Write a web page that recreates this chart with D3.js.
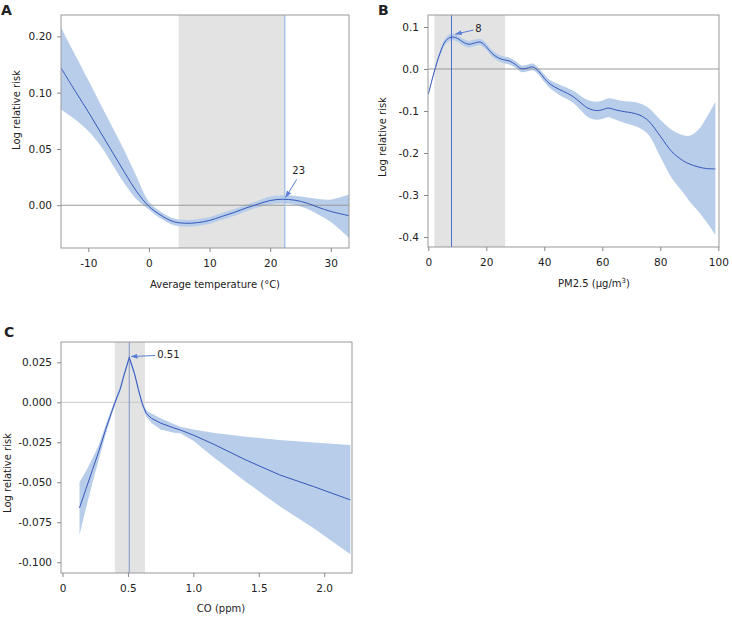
<!DOCTYPE html>
<html>
<head>
  <meta charset="utf-8"/>
  <title>Exposure-response curves</title>
  <script src="https://d3js.org/d3.v7.min.js"></script>
<style>
body { margin: 0; background: #fff; }
svg text { font-family: "DejaVu Sans", Verdana, sans-serif; fill: #222; }
.tick line { stroke: #888; }
.tick text { font-size: 10.5px; }
.title { font-size: 10px; }
.letter { font-size: 14px; font-weight: bold; }
</style>
</head>
<body>
<svg id="chart" width="732" height="626"></svg>
<script>
// ---- panel A: average temperature ----
var tempX    = [-14.5, -12, -10, -8, -6, -4, -2, 0, 2, 4, 6, 8, 10, 12, 14, 16, 18, 20, 22, 24, 26, 28, 30, 33];
var tempFit  = [0.122, 0.100, 0.083, 0.065, 0.047, 0.029, 0.012, -0.001, -0.009, -0.0145, -0.016, -0.0155, -0.0135, -0.010, -0.0065, -0.0025, 0.001, 0.0042, 0.0053, 0.0045, 0.002, -0.002, -0.0055, -0.0093];
var tempLow  = [0.085, 0.0755, 0.066, 0.053, 0.036, 0.019, 0.005, -0.004, -0.012, -0.0175, -0.019, -0.0185, -0.0165, -0.013, -0.0095, -0.0055, -0.002, 0.0007, 0.0018, 0.0005, -0.003, -0.0085, -0.015, -0.029];
var tempHigh = [0.158, 0.132, 0.111, 0.090, 0.069, 0.048, 0.025, 0.003, -0.006, -0.0115, -0.013, -0.0125, -0.0105, -0.007, -0.0035, 0.0005, 0.004, 0.0077, 0.0088, 0.0085, 0.007, 0.0055, 0.005, 0.0095];
var tempXTicks = [-10, 0, 10, 20, 30];
var tempYTicks = [0, 0.05, 0.10, 0.15];
var tempYTickLabels = ["0.00", "0.05", "0.10", "0.20"];

// ---- panel B: PM2.5 ----
var pmX    = [0, 2, 4, 6, 8, 10, 12, 14, 16, 18, 20, 22, 24, 26, 28, 30, 32, 34, 36, 38, 40, 42, 45, 48, 50, 52, 55, 58, 60, 62, 65, 68, 70, 73, 76, 80, 84, 88, 90, 93, 96, 99];
var pmFit  = [-0.060, -0.008, 0.037, 0.067, 0.076, 0.073, 0.064, 0.059, 0.062, 0.064, 0.053, 0.037, 0.027, 0.022, 0.019, 0.011, 0.001, 0.002, 0.005, -0.005, -0.022, -0.036, -0.048, -0.058, -0.066, -0.077, -0.093, -0.099, -0.097, -0.093, -0.098, -0.102, -0.104, -0.110, -0.124, -0.160, -0.197, -0.219, -0.226, -0.233, -0.237, -0.238];
var pmLow  = [-0.062, -0.012, 0.030, 0.059, 0.068, 0.065, 0.056, 0.051, 0.054, 0.056, 0.045, 0.029, 0.019, 0.014, 0.011, 0.003, -0.007, -0.006, -0.003, -0.013, -0.031, -0.046, -0.061, -0.072, -0.081, -0.094, -0.114, -0.121, -0.119, -0.115, -0.122, -0.129, -0.133, -0.141, -0.157, -0.209, -0.260, -0.295, -0.314, -0.338, -0.365, -0.395];
var pmHigh = [-0.058, -0.004, 0.044, 0.075, 0.084, 0.081, 0.072, 0.067, 0.070, 0.072, 0.061, 0.045, 0.035, 0.030, 0.027, 0.019, 0.009, 0.010, 0.013, 0.003, -0.013, -0.026, -0.036, -0.045, -0.052, -0.061, -0.074, -0.078, -0.075, -0.070, -0.073, -0.077, -0.078, -0.082, -0.093, -0.121, -0.145, -0.158, -0.159, -0.146, -0.115, -0.078];
var pmXTicks = [0, 20, 40, 60, 80, 100];
var pmYTicks = [0.1, 0, -0.1, -0.2, -0.3, -0.4];

// ---- panel C: CO ----
var coX    = [0.13, 0.18, 0.23, 0.28, 0.33, 0.38, 0.42, 0.44, 0.47, 0.51, 0.55, 0.58, 0.61, 0.64, 0.68, 0.75, 0.85, 0.90, 1.0, 1.15, 1.4, 1.66, 1.92, 2.2];
var coFit  = [-0.066, -0.054, -0.042, -0.030, -0.017, -0.005, 0.004, 0.008, 0.017, 0.028, 0.018, 0.008, -0.001, -0.007, -0.010, -0.013, -0.016, -0.0173, -0.0205, -0.026, -0.036, -0.0454, -0.0527, -0.061];
var coLow  = [-0.083, -0.066, -0.050, -0.035, -0.020, -0.007, 0.002, 0.006, 0.015, 0.026, 0.016, 0.006, -0.003, -0.009, -0.013, -0.017, -0.019, -0.0194, -0.024, -0.034, -0.0496, -0.065, -0.0788, -0.095];
var coHigh = [-0.050, -0.043, -0.035, -0.026, -0.014, -0.003, 0.006, 0.010, 0.019, 0.030, 0.020, 0.010, 0.001, -0.005, -0.007, -0.010, -0.0135, -0.0152, -0.017, -0.019, -0.0215, -0.0236, -0.0252, -0.0267];
var coXTicks = [0, 0.5, 1.0, 1.5, 2.0];
var coXTickLabels = ["0", "0.5", "1.0", "1.5", "2.0"];
var coYTicks = [0.025, 0, -0.025, -0.05, -0.075, -0.1];

var svg = d3.select("#chart");

// plain hyphen instead of the unicode minus d3 uses
function hyphen(fmt) {
  var f = d3.format(fmt);
  return function(d) { return f(d).replace("\u2212", "-"); };
}

var panels = [
  {
    letter: "A", letterPos: [1, 15],
    box: {left: 61, top: 15, right: 349, bottom: 248},
    xDomain: [-14.5, 33], yDomain: [-0.038, 0.169],
    x: tempX, fit: tempFit, low: tempLow, high: tempHigh,
    xTicks: tempXTicks, xFmt: hyphen("d"),
    yTicks: tempYTicks, yFmt: function(d, i) { return tempYTickLabels[i]; },
    range: [4.9, 22.4], opt: 22.4, optY: 0.0053, optLabel: "23",
    optColor: "#a9c4ea", optWidth: 1.5, zeroColor: "#999",
    arrowFrom: [12, -20], arrowTo: [1, -2], labelAt: [14, -29], labelAnchor: "middle",
    curve: d3.curveCatmullRom,
    xTitle: "Average temperature (\u00B0C)", xTitlePos: [215, 288],
    yTitlePos: [19.5, 110]
  },
  {
    letter: "B", letterPos: [378, 15],
    box: {left: 428, top: 15, right: 719, bottom: 247},
    xDomain: [-0.1, 100.24], yDomain: [-0.4238, 0.1286],
    x: pmX, fit: pmFit, low: pmLow, high: pmHigh,
    xTicks: pmXTicks, xFmt: hyphen("d"),
    yTicks: pmYTicks, yFmt: hyphen(".1f"),
    range: [2.1, 26.5], opt: 8, optY: 0.076, optLabel: "8",
    optColor: "#4d70cf", optWidth: 1, zeroColor: "#999",
    arrowFrom: [22, -7], arrowTo: [4, -3], labelAt: [27, -9], labelAnchor: "middle",
    curve: d3.curveCatmullRom,
    xTitle: "PM2.5 (\u03BCg/m", xTitleSup: "3", xTitleEnd: ")", xTitlePos: [594, 287],
    yTitlePos: [385.5, 137]
  },
  {
    letter: "C", letterPos: [4, 337],
    box: {left: 61, top: 342, right: 352, bottom: 573},
    xDomain: [-0.0115, 2.2125], yDomain: [-0.1067, 0.0377],
    x: coX, fit: coFit, low: coLow, high: coHigh,
    xTicks: coXTicks, xFmt: function(d, i) { return coXTickLabels[i]; },
    yTicks: coYTicks, yFmt: hyphen(".3f"),
    range: [0.40, 0.63], opt: 0.51, optY: 0.028, optLabel: "0.51",
    optColor: "#8093c6", optWidth: 1, zeroColor: "#c8c8c8",
    arrowFrom: [26, -2], arrowTo: [2, -1], labelAt: [28, -3], labelAnchor: "start",
    curve: d3.curveLinear,
    xTitle: "CO (ppm)", xTitlePos: [221, 612],
    yTitlePos: [10.5, 473]
  }
];

svg.append("defs").append("marker")
    .attr("id", "head")
    .attr("viewBox", "0 0 10 10")
    .attr("refX", 9).attr("refY", 5)
    .attr("markerWidth", 7).attr("markerHeight", 7)
    .attr("orient", "auto")
  .append("path")
    .attr("d", "M0,1.5L10,5L0,8.5Z")
    .attr("fill", "#5a7fd4");

panels.forEach(function(p, pi) {
  var b = p.box;
  var x = d3.scaleLinear().domain(p.xDomain).range([b.left, b.right]);
  var y = d3.scaleLinear().domain(p.yDomain).range([b.bottom, b.top]);
  var g = svg.append("g");

  var clipId = "clip" + pi;
  g.append("clipPath").attr("id", clipId)
    .append("rect")
      .attr("x", b.left).attr("y", b.top)
      .attr("width", b.right - b.left).attr("height", b.bottom - b.top);

  var inner = g.append("g").attr("clip-path", "url(#" + clipId + ")");

  // grey reference range
  inner.append("rect")
      .attr("x", x(p.range[0]))
      .attr("y", b.top)
      .attr("width", x(p.range[1]) - x(p.range[0]))
      .attr("height", b.bottom - b.top)
      .attr("fill", "#e3e3e3");

  var idx = d3.range(p.x.length);

  inner.append("path")
      .datum(idx)
      .attr("fill", "#b8cde9")
      .attr("d", d3.area()
          .curve(p.curve)
          .x(function(i) { return x(p.x[i]); })
          .y0(function(i) { return y(p.low[i]); })
          .y1(function(i) { return y(p.high[i]); }));

  inner.append("line")
      .attr("x1", b.left).attr("x2", b.right)
      .attr("y1", y(0)).attr("y2", y(0))
      .attr("stroke", p.zeroColor).attr("stroke-width", 1);

  inner.append("line")
      .attr("x1", x(p.opt)).attr("x2", x(p.opt))
      .attr("y1", b.top).attr("y2", b.bottom)
      .attr("stroke", p.optColor).attr("stroke-width", p.optWidth);

  inner.append("path")
      .datum(idx)
      .attr("fill", "none")
      .attr("stroke", "#3556bb")
      .attr("stroke-width", 1)
      .attr("d", d3.line()
          .curve(p.curve)
          .x(function(i) { return x(p.x[i]); })
          .y(function(i) { return y(p.fit[i]); }));

  // annotation arrow and label
  var ox = x(p.opt), oy = y(p.optY);
  g.append("line")
      .attr("x1", ox + p.arrowFrom[0]).attr("y1", oy + p.arrowFrom[1])
      .attr("x2", ox + p.arrowTo[0]).attr("y2", oy + p.arrowTo[1])
      .attr("stroke", "#5a7fd4").attr("stroke-width", 1)
      .attr("marker-end", "url(#head)");
  g.append("text")
      .attr("class", "title")
      .attr("font-size", "10.5px")
      .attr("x", ox + p.labelAt[0]).attr("y", oy + p.labelAt[1])
      .attr("text-anchor", p.labelAnchor)
      .attr("dy", "0.35em")
      .text(p.optLabel);

  // frame
  g.append("rect")
      .attr("x", b.left).attr("y", b.top)
      .attr("width", b.right - b.left).attr("height", b.bottom - b.top)
      .attr("fill", "none").attr("stroke", "#999");

  var xAxis = g.append("g")
      .attr("transform", "translate(0," + b.bottom + ")")
      .call(d3.axisBottom(x).tickValues(p.xTicks).tickFormat(p.xFmt)
          .tickSize(4).tickPadding(8));
  xAxis.select(".domain").remove();

  var yAxis = g.append("g")
      .attr("transform", "translate(" + b.left + ",0)")
      .call(d3.axisLeft(y).tickValues(p.yTicks).tickFormat(p.yFmt)
          .tickSize(4).tickPadding(5));
  yAxis.select(".domain").remove();

  g.selectAll(".tick text").attr("fill", "#222").attr("font-family", null).attr("font-size", null);
  g.selectAll(".tick line").attr("stroke", "#888");

  var xt = g.append("text")
      .attr("class", "title")
      .attr("x", p.xTitlePos[0]).attr("y", p.xTitlePos[1])
      .attr("text-anchor", "middle")
      .text(p.xTitle);
  if (p.xTitleSup) {
    xt.append("tspan").attr("dy", -4).attr("font-size", "7px").text(p.xTitleSup);
    xt.append("tspan").attr("dy", 4).text(p.xTitleEnd);
  }

  g.append("text")
      .attr("class", "title")
      .attr("transform", "translate(" + p.yTitlePos[0] + "," + p.yTitlePos[1] + ") rotate(-90)")
      .attr("text-anchor", "middle")
      .text("Log relative risk");

  g.append("text")
      .attr("class", "letter")
      .attr("x", p.letterPos[0]).attr("y", p.letterPos[1])
      .text(p.letter);
});
</script>
</body>
</html>
